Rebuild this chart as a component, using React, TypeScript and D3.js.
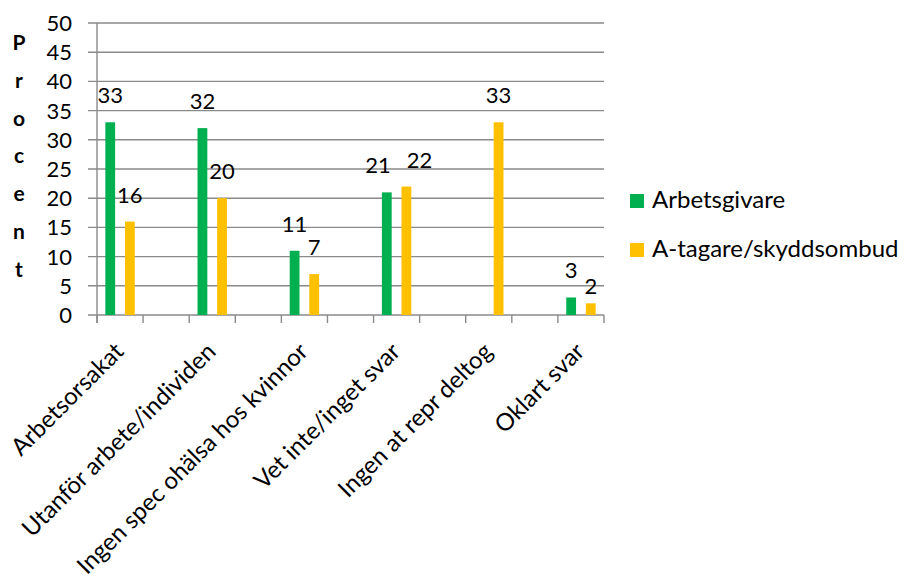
import React from "react";
import * as d3 from "d3";

const categories = [
  "Arbetsorsakat",
  "",
  "Utanför arbete/individen",
  "",
  "Ingen spec ohälsa hos kvinnor",
  "",
  "Vet inte/inget svar",
  "",
  "Ingen at repr deltog",
  "",
  "Oklart svar",
];
const seriesNames = ["Arbetsgivare", "A-tagare/skyddsombud"];
const arbetsgivare: (number | null)[] = [33, null, 32, null, 11, null, 21, null, null, null, 3];
const atagare: (number | null)[] = [16, null, 20, null, 7, null, 22, null, 33, null, 2];
const yTicks = [0, 5, 10, 15, 20, 25, 30, 35, 40, 45, 50];
const yTitle = ["P", "r", "o", "c", "e", "n", "t"];
const colors = ["#00B050", "#FFC000"];

const W = 905;
const H = 576;
const FONT = "Lato, 'Open Sans', sans-serif";

export default function App() {
  const left = 97;
  const right = 604;
  const top = 23;
  const bottom = 315;
  const x = d3.scaleBand<number>().domain(categories.map((_, i) => i)).range([left, right]).padding(0);
  const y = d3.scaleLinear().domain([0, 50]).range([bottom, top]);
  const sub = d3
    .scaleBand<string>()
    .domain(["s0", "gap", "s1"])
    .range([0, x.bandwidth()])
    .paddingInner(0)
    .paddingOuter(0.85);
  const series = [arbetsgivare, atagare];
  const bw = sub.bandwidth();
  const tickXs = categories.map((_, i) => x(i)!).concat([right]);
  const gridColor = "#8a8a8a";
  const labelFs = 22;
  const digitW = labelFs * 0.58;

  // data labels with simple collision avoidance inside a category
  type Lab = { x: number; y: number; v: number; key: string };
  const labels: Lab[] = [];
  categories.forEach((_, ci) => {
    const a = arbetsgivare[ci];
    const b = atagare[ci];
    const la: Lab | null =
      a == null ? null : { x: x(ci)! + sub("s0")! + bw / 2, y: y(a) - 19, v: a, key: "a" + ci };
    const lb: Lab | null =
      b == null ? null : { x: x(ci)! + sub("s1")! + bw / 2, y: y(b) - 19, v: b, key: "b" + ci };
    if (la && lb && Math.abs(la.y - lb.y) < labelFs * 0.8) {
      const wa = String(la.v).length * digitW;
      const wb = String(lb.v).length * digitW;
      const d = lb.x - la.x;
      if (d < (wa + wb) / 2 + 2) {
        const need = (wa + wb) / 2 + 16;
        la.x -= (need - d) * 0.4;
        lb.x += (need - d) * 0.6;
      } else if (d < (wa + wb) / 2 + 10) {
        const lower = la.v < lb.v ? la : lb;
        lower.y += 10;
      }
    }
    if (la) labels.push(la);
    if (lb) labels.push(lb);
  });

  return (
    <svg
      width={W}
      height={H}
      style={{ position: "absolute", left: 0, top: 0, background: "#fff" }}
      fontFamily={FONT}
    >
      {/* gridlines */}
      {yTicks.map((t) => (
        <line key={"g" + t} x1={left - 9} x2={right} y1={y(t)} y2={y(t)} stroke={gridColor} strokeWidth={1.4} />
      ))}
      {/* y axis */}
      <line x1={left} x2={left} y1={top} y2={bottom + 8} stroke={gridColor} strokeWidth={1.4} />
      {/* x ticks */}
      {tickXs.map((tx, i) => (
        <line key={"xt" + i} x1={tx} x2={tx} y1={bottom} y2={bottom + 8} stroke={gridColor} strokeWidth={1.4} />
      ))}
      {/* y tick labels */}
      {yTicks.map((t) => (
        <text key={"yl" + t} x={72} y={y(t)} dy="0.36em" textAnchor="end" fontSize={labelFs} fill="#000">
          {t}
        </text>
      ))}
      {/* y title */}
      {yTitle.map((c, i) => (
        <text key={"yt" + i} x={19} y={50 + i * 37.8} textAnchor="middle" fontSize={21} fontWeight="bold" fill="#000">
          {c}
        </text>
      ))}
      {/* bars */}
      {series.map((vals, si) =>
        vals.map((v, ci) =>
          v == null ? null : (
            <rect
              key={"b" + si + "-" + ci}
              x={x(ci)! + sub(si === 0 ? "s0" : "s1")!}
              y={y(v)}
              width={bw}
              height={y(0) - y(v)}
              fill={colors[si]}
            />
          )
        )
      )}
      {labels.map((l) => (
        <text key={l.key} x={l.x} y={l.y} textAnchor="middle" fontSize={labelFs} fill="#000">
          {l.v}
        </text>
      ))}
      {/* x labels */}
      {categories.map((c, i) =>
        c ? (
          <text
            key={"xl" + i}
            transform={`translate(${x(i)! + x.bandwidth() / 2 + 5},${bottom + 38}) rotate(-45)`}
            textAnchor="end"
            fontSize={24}
            fill="#000"
          >
            {c}
          </text>
        ) : null
      )}
      {/* legend */}
      {seriesNames.map((n, i) => (
        <g key={"lg" + i} transform={`translate(630,${194 + i * 49})`}>
          <rect x={0} y={0} width={14} height={14} fill={colors[i]} />
          <text x={22} y={14} fontSize={24} fill="#000">
            {n}
          </text>
        </g>
      ))}
    </svg>
  );
}
